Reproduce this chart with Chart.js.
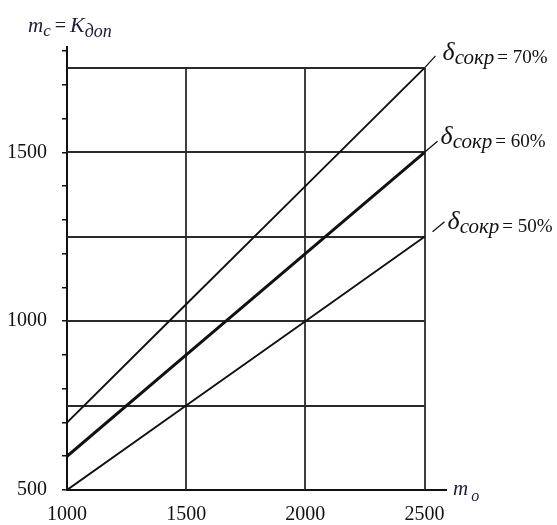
<!DOCTYPE html>
<html>
<head>
<meta charset="utf-8">
<script src="https://cdn.jsdelivr.net/npm/chart.js@4.4.0/dist/chart.umd.min.js"></script>
<style>
  html, body { margin: 0; padding: 0; background: #fff; }
</style>
</head>
<body>
<canvas id="myChart" width="557" height="525"></canvas>
<script>
// chart data
const massBase = [1000, 1500, 2000, 2500];
const reduction50 = [500, 750, 1000, 1250];
const reduction60 = [600, 900, 1200, 1500];
const reduction70 = [700, 1050, 1400, 1750];
const seriesNames = ['50%', '60%', '70%'];

const xTickValues = [1000, 1500, 2000, 2500];
const yTickValues = [500, 600, 700, 800, 900, 1000, 1100, 1200, 1300, 1400, 1500, 1600, 1700, 1800];
const yTickLabels = [500, 1000, 1500];
const gridX = [1500, 2000, 2500];
const gridY = [750, 1000, 1250, 1500, 1750];

const serif = "'Liberation Serif', 'DejaVu Serif', serif";
const ink = '#111';
const titleInk = '#1b1b3a';

function toPoints(ys) {
  return massBase.map(function (x, i) {
    return { x: x, y: ys[i] };
  });
}

// draws text pieces one after another: [text, font, dy, extra gap]
function drawPieces(ctx, x, y, pieces, color) {
  ctx.fillStyle = color;
  ctx.textBaseline = 'alphabetic';
  ctx.textAlign = 'left';
  let cx = x;
  for (let p of pieces) {
    ctx.font = p[1];
    ctx.fillText(p[0], cx, y + (p[2] || 0));
    cx += ctx.measureText(p[0]).width + (p[3] || 0);
  }
}

// grid lines only inside the data range
const gridPlugin = {
  id: 'partialGrid',
  beforeDatasetsDraw(chart) {
    const ctx = chart.ctx;
    const xs = chart.scales.x;
    const ys = chart.scales.y;
    ctx.save();
    ctx.strokeStyle = '#2a2a2a';
    ctx.lineWidth = 1.8;
    const left = xs.getPixelForValue(massBase[0]);
    const right = xs.getPixelForValue(massBase[massBase.length - 1]);
    const bottom = ys.getPixelForValue(500);
    const top = ys.getPixelForValue(gridY[gridY.length - 1]);
    for (let v of gridY) {
      const py = Math.round(ys.getPixelForValue(v));
      ctx.beginPath();
      ctx.moveTo(left, py);
      ctx.lineTo(right, py);
      ctx.stroke();
    }
    for (let v of gridX) {
      const px = Math.round(xs.getPixelForValue(v));
      ctx.beginPath();
      ctx.moveTo(px, bottom);
      ctx.lineTo(px, top);
      ctx.stroke();
    }
    ctx.restore();
  }
};

// axis titles and line labels
const labelPlugin = {
  id: 'labels',
  afterDraw(chart) {
    const ctx = chart.ctx;
    const xs = chart.scales.x;
    const ys = chart.scales.y;
    ctx.save();

    // y title
    drawPieces(ctx, 28, 32, [
      ['m', 'italic 21px ' + serif],
      ['c', 'italic 17px ' + serif, 4, 4],
      ['=', '20px ' + serif, 0, 4],
      ['K', 'italic 22px ' + serif],
      ['доп', 'italic 18px ' + serif, 5]
    ], titleInk);

    // x title
    drawPieces(ctx, 453, 495, [
      ['m', 'italic 21px ' + serif, 0, 3],
      ['o', 'italic 16px ' + serif, 6]
    ], titleInk);

    // line labels
    const ends = [reduction50, reduction60, reduction70];
    const offsets = [
      { lx0: 8, ly0: -5, lx1: 20, ly1: -15, tx: 23, ty: -8 },
      { lx0: 0, ly0: 0, lx1: 13, ly1: -11, tx: 16, ty: -8 },
      { lx0: 0, ly0: 0, lx1: 11, ly1: -12, tx: 18, ty: -8 }
    ];
    ctx.strokeStyle = ink;
    ctx.lineWidth = 1.3;
    ends.forEach(function (ys_, i) {
      const ex = xs.getPixelForValue(massBase[massBase.length - 1]);
      const ey = ys.getPixelForValue(ys_[ys_.length - 1]);
      const o = offsets[i];
      ctx.beginPath();
      ctx.moveTo(ex + o.lx0, ey + o.ly0);
      ctx.lineTo(ex + o.lx1, ey + o.ly1);
      ctx.stroke();
      drawPieces(ctx, ex + o.tx, ey + o.ty, [
        ['δ', 'italic 26px ' + serif],
        ['сокр', 'italic 21px ' + serif, 4, 3],
        ['= ' + seriesNames[i], '19px ' + serif, 3]
      ], ink);
    });
    ctx.restore();
  }
};

const ctx = document.getElementById('myChart').getContext('2d');

// eslint-disable-next-line
const chart = new Chart(ctx, {
  type: 'scatter',
  data: {
    datasets: [
      { label: '50%', data: toPoints(reduction50), borderColor: ink, borderWidth: 1.9 },
      { label: '60%', data: toPoints(reduction60), borderColor: ink, borderWidth: 3 },
      { label: '70%', data: toPoints(reduction70), borderColor: ink, borderWidth: 1.9 }
    ].map(function (d) {
      d.showLine = true;
      d.pointRadius = 0;
      d.fill = false;
      return d;
    })
  },
  options: {
    responsive: false,
    animation: false,
    layout: { padding: { top: 47, right: 111, left: 0, bottom: 0 } },
    plugins: { legend: { display: false }, tooltip: { enabled: false } },
    scales: {
      x: {
        type: 'linear',
        min: 1000,
        max: 2590,
        afterBuildTicks: function (scale) {
          scale.ticks = xTickValues.map(function (v) { return { value: v }; });
        },
        afterFit: function (scale) { scale.height = 35; },
        grid: { display: false, drawTicks: false },
        border: { display: true, color: ink, width: 2 },
        ticks: {
          color: ink,
          font: { family: serif, size: 20 },
          padding: 13,
          maxRotation: 0,
          callback: function (v) { return String(v); }
        }
      },
      y: {
        type: 'linear',
        min: 500,
        max: 1812,
        afterBuildTicks: function (scale) {
          scale.ticks = yTickValues.map(function (v) { return { value: v }; });
        },
        afterFit: function (scale) { scale.width = 67; },
        grid: { drawOnChartArea: false, drawTicks: true, tickLength: 5, color: ink, lineWidth: 1.5 },
        border: { display: true, color: ink, width: 2 },
        ticks: {
          color: ink,
          font: { family: serif, size: 20 },
          padding: 15,
          autoSkip: false,
          callback: function (v) {
            return yTickLabels.indexOf(v) >= 0 ? String(v) : '';
          }
        }
      }
    }
  },
  plugins: [gridPlugin, labelPlugin]
});
</script>
</body>
</html>
